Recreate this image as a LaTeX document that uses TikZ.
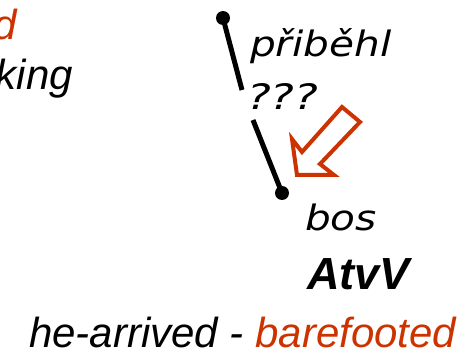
\documentclass[tikz,border=0pt]{standalone}
\usepackage{fontspec}
\setmainfont{Liberation Sans}
\newfontfamily\pixfont{DejaVu Sans}
\definecolor{rust}{RGB}{204,51,0}
\begin{document}
\begin{tikzpicture}[x=1pt,y=-1pt,
  every node/.style={inner sep=0pt, outer sep=0pt},
  gloss/.style={font=\fontsize{42}{48}\selectfont\itshape, anchor=base west},
  pix/.style={font=\pixfont\fontsize{35}{40}\selectfont\itshape, anchor=base west, xscale=1.16},
  tag/.style={font=\fontsize{45}{50}\selectfont\bfseries\itshape, anchor=base west},
  dot/.style={circle, fill=black, minimum size=14pt},
  edge/.style={line width=5pt},
  hint/.style={rust, line width=4pt, line join=miter, fill=white}]
\useasboundingbox (0,0) rectangle (475,353);
\begin{scope}
\clip (0,0) rectangle (475,353);
\node[gloss, text=rust, anchor=base east] (d) at (17,40) {d};
\node[gloss, anchor=base east] (king) at (73,90) {king};
\end{scope}
% dependency edge
\node[dot] (top) at (223,18) {};
\node[dot] (bot) at (282,193) {};
\coordinate (m1) at (242,90);
\coordinate (m2) at (253,120);
\draw[edge] (top.center) -- (m1);
\draw[edge] (m2) -- (bot.center);
\node[pix] (gov) at (250,57) {přiběhl};
\node[pix, xscale=1.1] (q) at (247,110) {???};
\node[pix] (dep) at (305,230) {bos};
\node[tag] (atv) at (307,290) {AtvV};
% arrow
\draw[hint] (342,107) -- (360,122) -- (320,164) -- (334,175) -- (297,175) -- (292,139) -- (302,152) -- cycle;
\node[gloss] (gl) at (29,347) {he-arrived - \textcolor{rust}{barefooted}};
\end{tikzpicture}
\end{document}
